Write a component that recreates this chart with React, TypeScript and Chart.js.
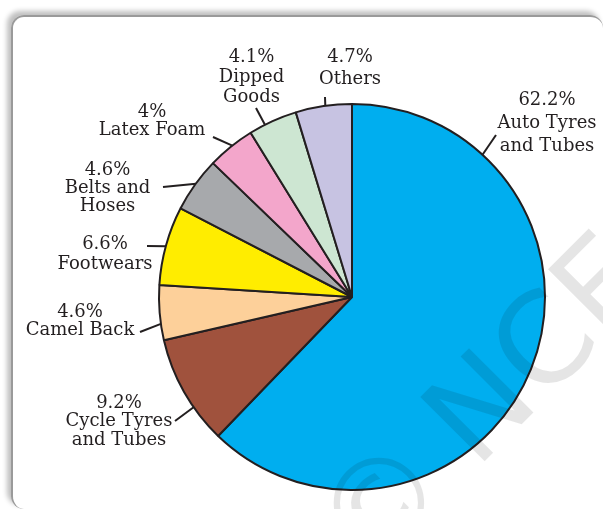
import { useEffect, useRef } from 'react';
import Chart from 'chart.js/auto';

const categories = [
	'Auto Tyres\nand Tubes',
	'Cycle Tyres\nand Tubes',
	'Camel Back',
	'Footwears',
	'Belts and\nHoses',
	'Latex Foam',
	'Dipped\nGoods',
	'Others',
];
const shares = [62.2, 9.2, 4.6, 6.6, 4.6, 4, 4.1, 4.7];
const colors = ['#00AEEF', '#A0523D', '#FDD09A', '#FFED00', '#A7A9AC', '#F3A6CB', '#CDE6D2', '#C7C3E2'];

// where each leader touches the arc (fraction of slice), its outer end, and the text block centre
const labelLayout = [
	{ f: 0.19, ex: 496, ey: 135, tx: 547, ty: 100.5, gap: 23 },
	{ f: 0.34, ex: 175, ey: 421, tx: 119, ty: 403, gap: 18.5 },
	{ f: 0.3, ex: 140, ey: 332, tx: 80, ty: 312.5, gap: 18 },
	{ f: 0.49, ex: 147, ey: 246, tx: 105, ty: 244.5, gap: 19.5 },
	{ f: 0.52, ex: 163, ey: 187, tx: 107.5, ty: 170, gap: 18 },
	{ f: 0.54, ex: 213, ey: 137, tx: 152, ty: 112.5, gap: 18 },
	{ f: 0.33, ex: 256, ey: 108, tx: 251.5, ty: 57, gap: 20 },
	{ f: 0.53, ex: 325, ey: 97, tx: 350, ty: 57, gap: 22 },
];

const ink = '#231F20';

const labelPlugin = {
	id: 'pieLabels',
	afterDraw(chart: any) {
		const ctx = chart.ctx;
		const arcs = chart.getDatasetMeta(0).data;
		ctx.save();
		ctx.strokeStyle = ink;
		ctx.lineWidth = 2;
		ctx.fillStyle = ink;
		ctx.font = '18px "DejaVu Serif"';
		ctx.textAlign = 'center';
		ctx.textBaseline = 'middle';
		arcs.forEach((arc: any, i: number) => {
			const l = labelLayout[i];
			const a = arc.startAngle + l.f * (arc.endAngle - arc.startAngle);
			const px = arc.x + arc.outerRadius * Math.cos(a);
			const py = arc.y + arc.outerRadius * Math.sin(a);
			ctx.beginPath();
			ctx.moveTo(px, py);
			ctx.lineTo(l.ex, l.ey);
			ctx.stroke();
			const lines = [shares[i] + '%', ...categories[i].split('\n')];
			lines.forEach((t, j) => ctx.fillText(t, l.tx, l.ty + j * l.gap));
		});
		ctx.restore();

		// faint watermark
		ctx.save();
		ctx.translate(483, 463);
		ctx.rotate(-Math.PI / 4);
		ctx.fillStyle = 'rgba(0,0,0,0.1)';
		ctx.font = '125px "DejaVu Sans"';
		ctx.textBaseline = 'alphabetic';
		ctx.textAlign = 'center';
		ctx.fillText('©', -102, 0);
		ctx.textAlign = 'left';
		ctx.fillText('NCERT', -10, 0);
		ctx.restore();
	},
};

const App = () => {
	const chartRef = useRef<HTMLCanvasElement>(null);

	useEffect(() => {
		const ctx = chartRef.current?.getContext('2d');
		if (!ctx) return;

		const chart = new Chart(ctx, {
			type: 'pie',
			data: {
				labels: categories,
				datasets: [
					{
						data: shares,
						backgroundColor: colors,
						borderColor: ink,
						borderWidth: 2,
					},
				],
			},
			options: {
				responsive: true,
				maintainAspectRatio: false,
				animation: false,
				radius: 193,
				layout: { padding: { left: 101, top: 85, right: 0, bottom: 0 } },
				plugins: {
					legend: { display: false },
					tooltip: { enabled: false },
				},
			},
			plugins: [labelPlugin],
		});

		return () => {
			chart.destroy();
		};
	}, []);

	return (
		<div style={{ position: 'fixed', left: 0, top: 0, width: 603, height: 509, background: '#fff', overflow: 'hidden' }}>
			<div
				style={{
					position: 'absolute',
					left: 11,
					top: 15,
					width: 590,
					height: 492,
					borderLeft: '2px solid #9a9a9a',
					borderTop: '2px solid #9a9a9a',
					borderRadius: 13,
					boxShadow: '-4px -4px 5px rgba(0,0,0,0.25)',
				}}
			/>
			<div style={{ position: 'absolute', left: 0, top: 0, width: 603, height: 509 }}>
				<canvas ref={chartRef} />
			</div>
		</div>
	);
};

export default App;
